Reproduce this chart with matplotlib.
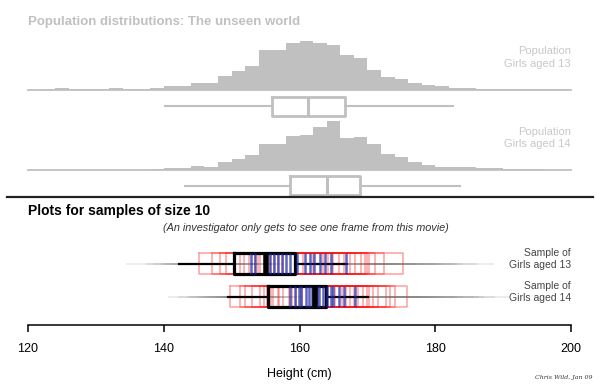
import numpy as np
import matplotlib
matplotlib.use("Agg")
import matplotlib.pyplot as plt

plt.rcParams['font.family'] = ['Liberation Sans', 'DejaVu Sans']

# population histograms: 2 cm bins from 120 to 200 (heights in arbitrary counts)
bin_edges = np.arange(120, 202, 2)
hist13 = [0, 3, 5, 2, 2, 3, 4, 2, 2, 6, 12, 12, 20, 20, 40, 56, 72, 120, 120, 140,
          147, 141, 133, 103, 96, 60, 38, 33, 20, 13, 10, 5, 6, 3, 2, 3, 3, 2, 3, 1]
hist14 = [0, 0, 1, 0, 0, 1, 1, 1, 1, 2, 5, 5, 13, 10, 25, 32, 45, 77, 77, 102,
          104, 128, 148, 95, 100, 77, 48, 40, 25, 15, 10, 8, 8, 6, 5, 3, 2, 2, 1, 1]

# population five-number summaries (lo whisker, q1, median, q3, hi whisker)
pop13 = [140.2, 155.9, 161.2, 166.7, 182.6]
pop14 = [143.2, 158.6, 164.0, 168.9, 183.7]

# earlier sample boxplots (the "movie" trail)
lo13 = [134.6, 137.5, 139.8, 141.0, 142.5, 143.8, 144.6, 145.5, 146.3, 147.0, 140.2, 143.0, 145.0, 138.5, 144.0, 146.8]
q1_13 = [145.2, 148.3, 150.5, 151.8, 152.6, 153.4, 154.2, 155.0, 155.6, 156.3, 149.2, 153.9, 156.8, 147.1, 151.2, 157.6]
med13 = [152.8, 153.5, 155.6, 156.2, 156.9, 157.4, 158.0, 158.6, 159.6, 160.8, 161.5, 162.2, 163.0, 163.7, 164.6, 166.9]
q3_13 = [160.5, 162.0, 163.4, 164.2, 165.0, 165.8, 166.6, 167.4, 168.2, 169.0, 170.0, 171.1, 172.4, 175.3, 169.6, 170.3]
hi13 = [172.0, 174.5, 176.0, 178.2, 179.5, 181.0, 182.5, 184.0, 186.0, 188.5, 175.0, 177.0, 174.2, 180.0, 173.5, 183.0]

lo14 = [140.8, 143.5, 145.0, 146.2, 147.5, 148.6, 149.8, 150.5, 151.2, 144.0, 146.8, 149.0, 142.2, 147.9, 150.9, 145.6]
q1_14 = [149.8, 153.0, 154.2, 155.8, 156.8, 157.6, 158.4, 159.5, 160.3, 152.0, 155.2, 157.0, 151.3, 156.1, 158.9, 154.8]
med14 = [158.6, 159.4, 160.2, 161.0, 161.8, 162.6, 163.4, 164.1, 165.0, 165.8, 166.5, 168.2, 159.9, 162.9, 164.7, 161.4]
q3_14 = [164.0, 165.2, 166.3, 167.5, 168.6, 169.9, 170.8, 171.6, 172.7, 174.0, 175.9, 173.3, 166.9, 168.1, 170.2, 169.3]
hi14 = [176.0, 178.0, 179.5, 181.0, 182.6, 184.0, 185.5, 187.0, 188.6, 190.8, 183.0, 180.2, 175.2, 177.5, 186.3, 179.0]

# current sample boxplots
cur13 = [142.3, 150.4, 155.0, 159.3, 167.0]
cur14 = [149.4, 155.4, 162.3, 163.9, 170.1]

ticks = [120, 140, 160, 180, 200]


def stat(v):
    return dict(whislo=v[0], q1=v[1], med=v[2], q3=v[3], whishi=v[4], fliers=[])


# one axes over the whole figure: x in cm, y in pixels from the top
px_per_cm = 543 / 80
fig = plt.figure(figsize=(6, 3.87), dpi=100)
ax = fig.add_axes([0, 0, 1, 1])
ax.set_xlim(120 - 28 / px_per_cm, 120 + 572 / px_per_cm)
ax.set_ylim(387, 0)

grey = '#c0c0c0'
for h, base in [(hist13, 89.5), (hist14, 170)]:
    ax.stairs(base - np.array(h) / 3.0, bin_edges, baseline=base, fill=True,
              color=grey, lw=0)
    ax.plot([120, 200], [base, base], color=grey, lw=1.3)

for p, y in [(pop13, 106), (pop14, 185.5)]:
    ax.bxp([stat(p)], positions=[y], widths=19, orientation='horizontal',
           showfliers=False, showcaps=False,
           boxprops=dict(color=grey, lw=2),
           medianprops=dict(color=grey, lw=2.2),
           whiskerprops=dict(color=grey, lw=1.5))

rows = [(lo13, q1_13, med13, q3_13, hi13, cur13, 263.5),
        (lo14, q1_14, med14, q3_14, hi14, cur14, 296.5)]
for lo, q1, med, q3, hi, cur, y in rows:
    trail = [stat(v) for v in zip(lo, q1, med, q3, hi)]
    ax.bxp(trail, positions=[y] * len(trail), widths=21, orientation='horizontal',
           showfliers=False, showcaps=False,
           boxprops=dict(color='#ff1a1a', alpha=0.42, lw=1.1),
           medianprops=dict(color='#2228a8', alpha=0.72, lw=1.8),
           whiskerprops=dict(color='#808080', alpha=0.18, lw=1.2))
    ax.bxp([stat(cur)], positions=[y], widths=21, orientation='horizontal',
           showfliers=False, showcaps=False,
           boxprops=dict(color='black', lw=2.3),
           medianprops=dict(color='black', lw=4),
           whiskerprops=dict(color='black', lw=1.6))

# separator
ax.axhline(197, xmin=7 / 600, xmax=593 / 600, color='#222222', lw=1.6)

# bottom axis
for s in ['top', 'left', 'right']:
    ax.spines[s].set_visible(False)
ax.spines['bottom'].set_position(('data', 325))
ax.spines['bottom'].set_bounds(120, 200)
ax.spines['bottom'].set_linewidth(1.1)
ax.set_xticks(ticks)
ax.set_xticklabels([str(t) for t in ticks])
ax.tick_params(axis='x', direction='out', length=5, width=1.1, pad=8, labelsize=9)
ax.set_yticks([])

# texts
ax.text(120, 22, 'Population distributions: The unseen world', color=grey,
        fontsize=9.5, fontweight='bold', va='center', ha='left')
ax.text(200, 57.5, 'Population\nGirls aged 13', color='#c8c8c8', fontsize=8,
        ha='right', va='center', linespacing=1.3)
ax.text(200, 138, 'Population\nGirls aged 14', color='#c8c8c8', fontsize=8,
        ha='right', va='center', linespacing=1.3)
ax.text(120, 211, 'Plots for samples of size 10', color='black', fontsize=10,
        fontweight='bold', va='center', ha='left')
ax.text(161, 228, '(An investigator only gets to see one frame from this movie)',
        color='#333333', fontsize=7.8, style='italic', ha='center', va='center')
ax.text(200, 259, 'Sample of\nGirls aged 13', color='#444444', fontsize=7.5,
        ha='right', va='center', linespacing=1.3)
ax.text(200, 292, 'Sample of\nGirls aged 14', color='#444444', fontsize=7.5,
        ha='right', va='center', linespacing=1.3)
ax.text(160, 374, 'Height (cm)', color='black', fontsize=9, ha='center', va='center')
ax.text(199, 378, 'Chris Wild, Jan 09', color='#333333', fontsize=4.5,
        style='italic', family='DejaVu Serif', ha='center', va='center')

fig.savefig('out.png', dpi=100)
